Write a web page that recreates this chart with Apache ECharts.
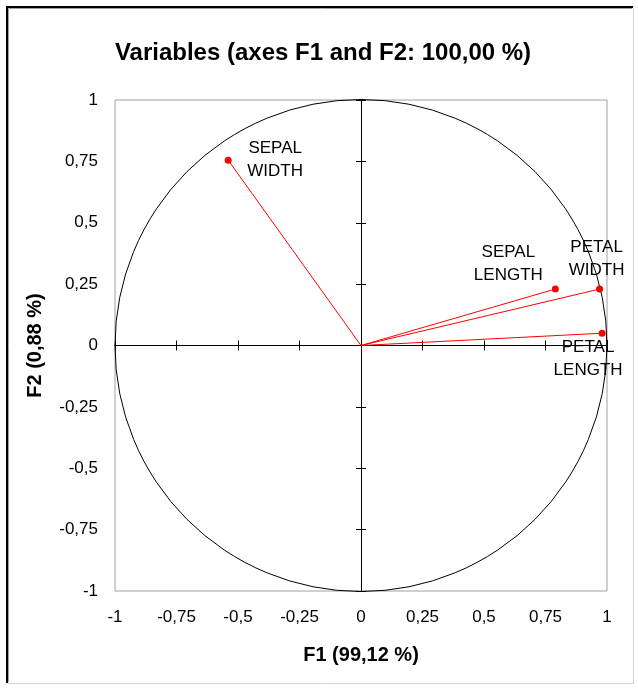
<!DOCTYPE html>
<html lang="en">
<head>
  <meta charset="UTF-8">
  <title>Variables (axes F1 and F2)</title>
  <script src="https://cdn.jsdelivr.net/npm/echarts/dist/echarts.min.js"></script>
  <style>
    html, body { margin: 0; padding: 0; background: #fff; }
    #main { width: 638px; height: 688px; }
  </style>
</head>
<body>
  <div id="main"></div>

  <script>
    const variables = ['SEPAL LENGTH', 'SEPAL WIDTH', 'PETAL LENGTH', 'PETAL WIDTH'];
    const f1 = [0.79, -0.54, 0.98, 0.97];
    const f2 = [0.23, 0.755, 0.05, 0.23];
    const tickValues = [-1, -0.75, -0.5, -0.25, 0, 0.25, 0.5, 0.75, 1];
    const tickLabels = ['-1', '-0,75', '-0,5', '-0,25', '0', '0,25', '0,5', '0,75', '1'];

    // where each name sits relative to its point (px)
    const labelOffsets = {
      'SEPAL LENGTH': [-47, -25],
      'SEPAL WIDTH': [47, 0],
      'PETAL LENGTH': [-14, 26],
      'PETAL WIDTH': [-3, -30]
    };

    const font = "'Liberation Sans', Arial, sans-serif";
    const fmt = v => {
      const i = tickValues.findIndex(t => Math.abs(t - v) < 1e-9);
      return i >= 0 ? tickLabels[i] : '';
    };

    const chart = echarts.init(document.getElementById('main'));

    const baseAxis = {
      type: 'value', min: -1, max: 1, interval: 0.25,
      splitLine: { show: false }
    };
    const labelAxis = (name, gap, margin) => Object.assign({}, baseAxis, {
      name: name,
      nameLocation: 'middle',
      nameGap: gap,
      nameTextStyle: { fontFamily: font, fontSize: 20, fontWeight: 'bold', color: '#000' },
      axisLine: { show: false, onZero: false },
      axisTick: { show: false },
      axisLabel: { formatter: fmt, fontFamily: font, fontSize: 17, color: '#000', margin: margin }
    });
    const zeroAxis = inside => Object.assign({}, baseAxis, {
      axisLine: { show: true, onZero: true, lineStyle: { color: '#000', width: 1 } },
      axisTick: { show: true, inside: inside, length: 5, lineStyle: { color: '#000', width: 1 } },
      axisLabel: { show: false }
    });

    const series = variables.map((name, i) => ({
      name: name,
      type: 'line',
      xAxisIndex: 0,
      yAxisIndex: 0,
      symbol: 'circle',
      symbolSize: 7,
      lineStyle: { color: '#ff0000', width: 1 },
      itemStyle: { color: '#ff0000' },
      z: 5,
      data: [
        { value: [0, 0], symbol: 'none' },
        {
          value: [f1[i], f2[i]],
          label: {
            show: true,
            position: 'inside',
            offset: labelOffsets[name],
            formatter: name.replace(' ', '\n'),
            align: 'center',
            verticalAlign: 'middle',
            fontFamily: font,
            fontSize: 17,
            lineHeight: 23,
            color: '#000'
          }
        }
      ]
    }));

    chart.setOption({
      animation: false,
      title: {
        text: 'Variables (axes F1 and F2: 100,00 %)',
        left: 323,
        textAlign: 'center',
        top: 41,
        padding: 0,
        textStyle: { fontFamily: font, fontSize: 24, fontWeight: 'bold', color: '#000' }
      },
      grid: {
        left: 115, top: 100, right: 31, bottom: 97,
        show: true, borderColor: '#a0a0a0', borderWidth: 1
      },
      xAxis: [labelAxis('F1 (99,12 %)', 54, 18), zeroAxis(false), zeroAxis(true)],
      yAxis: [labelAxis('F2 (0,88 %)', 70, 17), zeroAxis(false), zeroAxis(true)],
      series: series
    });

    // unit circle and outer frame, placed from the chart's own scale
    const c = chart.convertToPixel({ gridIndex: 0 }, [0, 0]);
    const e = chart.convertToPixel({ gridIndex: 0 }, [1, 0]);
    chart.setOption({
      graphic: [
        {
          type: 'circle', z: 3, silent: true,
          shape: { cx: c[0], cy: c[1], r: e[0] - c[0] },
          style: { fill: 'none', stroke: '#000', lineWidth: 1 }
        },
        { type: 'polyline', silent: true, shape: { points: [[7, 683], [7, 7], [633, 7]] },
          style: { fill: 'none', stroke: '#000', lineWidth: 2 } },
        { type: 'polyline', silent: true, shape: { points: [[8.5, 682], [8.5, 8.5], [632, 8.5]] },
          style: { fill: 'none', stroke: '#a0a0a0', lineWidth: 1 } },
        { type: 'polyline', silent: true, shape: { points: [[633.5, 7], [633.5, 683.5], [7, 683.5]] },
          style: { fill: 'none', stroke: '#d4d4d4', lineWidth: 1 } }
      ]
    });
  </script>
</body>
</html>
